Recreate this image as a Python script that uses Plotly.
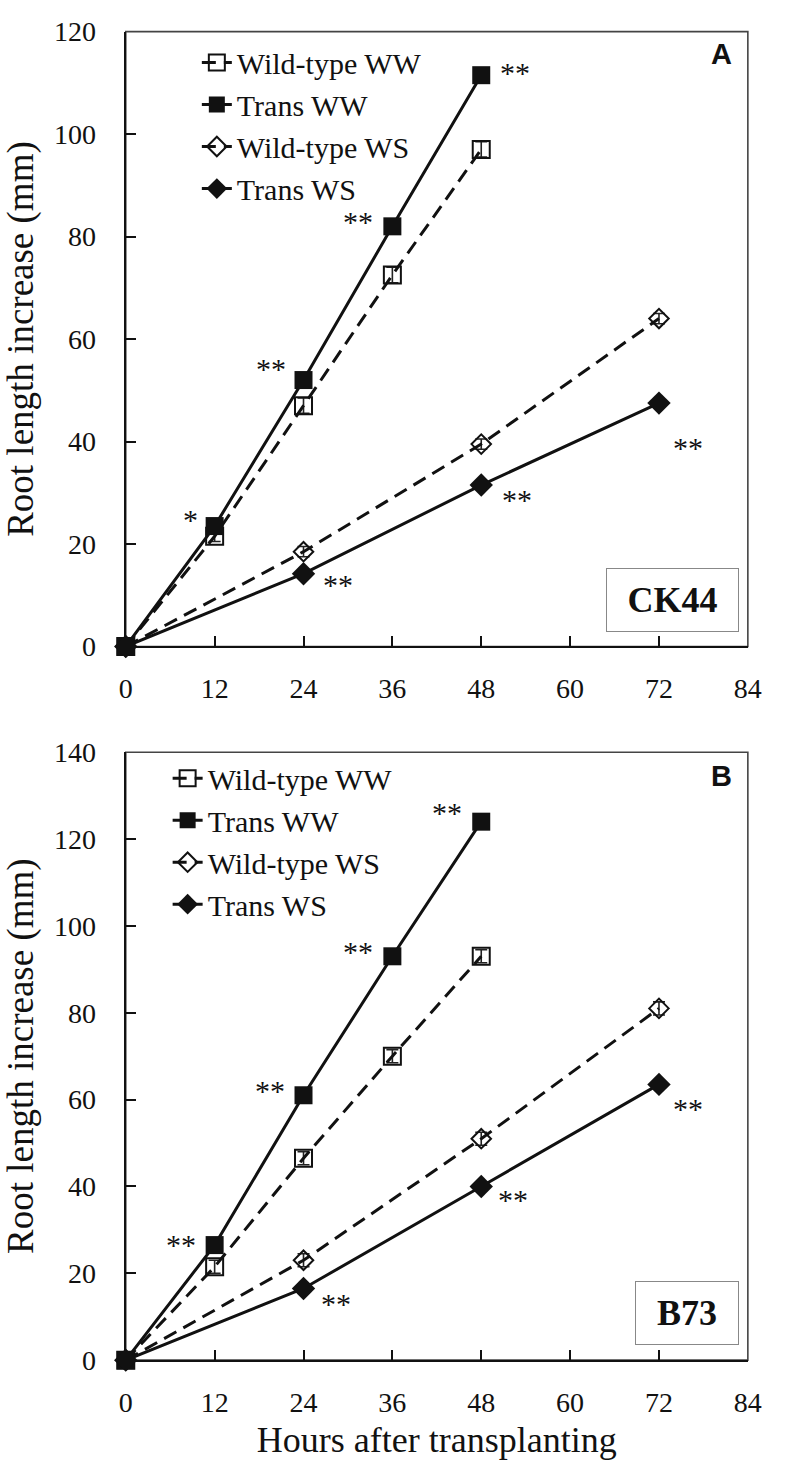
import plotly.graph_objects as go

# ---------------- data ----------------
hours_ww = [0, 12, 24, 36, 48]
hours_ws = [0, 24, 48, 72]

# Panel A: CK44
ck_wt_ww = [0, 21.5, 47.0, 72.5, 97.0]
ck_wt_ww_err = [0, 1.0, 1.5, 1.5, 1.5]
ck_tr_ww = [0, 23.5, 52.0, 82.0, 111.5]
ck_tr_ww_err = [0, 1.0, 1.0, 1.0, 1.0]
ck_wt_ws = [0, 18.5, 39.5, 64.0]
ck_wt_ws_err = [0, 1.0, 1.0, 1.0]
ck_tr_ws = [0, 14.2, 31.5, 47.5]
ck_tr_ws_err = [0, 0.8, 0.8, 0.8]

# Panel B: B73
b_wt_ww = [0, 21.5, 46.5, 70.0, 93.0]
b_wt_ww_err = [0, 1.5, 1.5, 1.5, 1.5]
b_tr_ww = [0, 26.5, 61.0, 93.0, 124.0]
b_tr_ww_err = [0, 1.0, 1.0, 1.0, 1.0]
b_wt_ws = [0, 23.0, 51.0, 81.0]
b_wt_ws_err = [0, 1.5, 1.5, 1.5]
b_tr_ws = [0, 16.5, 40.0, 63.5]
b_tr_ws_err = [0, 1.0, 1.0, 1.0]

series_names = ["Wild-type WW", "Trans WW", "Wild-type WS", "Trans WS"]
x_ticks = [0, 12, 24, 36, 48, 60, 72, 84]

# significance marks: (series index, point index, text)
ck_sig = [(1, 1, "*"), (1, 2, "**"), (1, 3, "**"), (1, 4, "**"),
          (3, 1, "**"), (3, 2, "**"), (3, 3, "**")]
b_sig = [(1, 1, "**"), (1, 2, "**"), (1, 3, "**"), (1, 4, "**"),
         (3, 1, "**"), (3, 2, "**"), (3, 3, "**")]

# ---------------- style ----------------
SERIF = "Liberation Serif, Times New Roman, serif"
SANS = "Liberation Sans, Arial, sans-serif"
W, H = 793, 1477

styles = [
    dict(dash="14px,8px", symbol="square-open", size=17, fill=False),
    dict(dash="solid", symbol="square", size=18, fill=True),
    dict(dash="14px,8px", symbol="diamond-open", size=15, fill=False),
    dict(dash="solid", symbol="diamond", size=18, fill=True),
]

fig = go.Figure()

panels = [
    dict(xa="x", ya="y", legend="legend",
         data=[(hours_ww, ck_wt_ww, ck_wt_ww_err), (hours_ww, ck_tr_ww, ck_tr_ww_err),
               (hours_ws, ck_wt_ws, ck_wt_ws_err), (hours_ws, ck_tr_ws, ck_tr_ws_err)],
         sig=ck_sig),
    dict(xa="x2", ya="y2", legend="legend2",
         data=[(hours_ww, b_wt_ww, b_wt_ww_err), (hours_ww, b_tr_ww, b_tr_ww_err),
               (hours_ws, b_wt_ws, b_wt_ws_err), (hours_ws, b_tr_ws, b_tr_ws_err)],
         sig=b_sig),
]

for p in panels:
    for i, (xs, ys, es) in enumerate(p["data"]):
        st = styles[i]
        fig.add_trace(go.Scatter(
            x=xs, y=ys, name=series_names[i], mode="lines+markers",
            xaxis=p["xa"], yaxis=p["ya"], legend=p["legend"],
            line=dict(color="#111111", width=3, dash=st["dash"]),
            marker=dict(symbol=st["symbol"], size=st["size"], color="#111111",
                        line=dict(color="#111111", width=2 if not st["fill"] else 0)),
            error_y=dict(type="data", array=es, visible=True, color="#222222",
                         thickness=1.6, width=6),
            cliponaxis=False,
        ))

# significance annotations, placed relative to the data point (pixel offsets)
offsets_ck = {(1, 1): (-24, -7), (1, 2): (-33, -12), (1, 3): (-34, -5), (1, 4): (34, -3),
              (3, 1): (34, 11), (3, 2): (36, 14), (3, 3): (29, 44)}
offsets_b = {(1, 1): (-34, -1), (1, 2): (-34, -5), (1, 3): (-34, -5), (1, 4): (-34, -9),
             (3, 1): (32, 15), (3, 2): (32, 13), (3, 3): (29, 24)}

annotations = []
for p, offs in zip(panels, [offsets_ck, offsets_b]):
    for (si, pi, txt) in p["sig"]:
        xs, ys, _ = p["data"][si]
        dx, dy = offs[(si, pi)]
        annotations.append(dict(
            x=xs[pi], y=ys[pi], xref=p["xa"], yref=p["ya"], text=txt,
            showarrow=False, xshift=dx, yshift=-dy,
            xanchor="center", yanchor="middle",
            font=dict(family=SERIF, size=30, color="#111111")))

# domains (pixel based)
xd = [122 / W, 761 / W]
yd_top = [1 - 645 / H, 1 - 17 / H]
yd_bot = [1 - 1374 / H, 1 - 753 / H]

# panel letters
annotations.append(dict(x=734 / W, y=1 - 40 / H, xref="paper", yref="paper", text="<b>A</b>",
                        xanchor="center", yanchor="middle",
                        showarrow=False, font=dict(family=SANS, size=29, color="#111111")))
annotations.append(dict(x=734 / W, y=1 - 777 / H, xref="paper", yref="paper", text="<b>B</b>",
                        xanchor="center", yanchor="middle",
                        showarrow=False, font=dict(family=SANS, size=29, color="#111111")))
# cultivar boxes
annotations.append(dict(x=752 / W, y=1 - 630 / H, xref="paper", yref="paper",
                        xanchor="right", yanchor="bottom", text="<b>CK44</b>",
                        showarrow=False, width=127, height=58, borderpad=2,
                        bordercolor="#888888", borderwidth=1, bgcolor="white",
                        font=dict(family=SERIF, size=36, color="#111111")))
annotations.append(dict(x=752 / W, y=1 - 1359 / H, xref="paper", yref="paper",
                        xanchor="right", yanchor="bottom", text="<b>B73</b>",
                        showarrow=False, width=98, height=58, borderpad=2,
                        bordercolor="#888888", borderwidth=1, bgcolor="white",
                        font=dict(family=SERIF, size=36, color="#111111")))

axis_common = dict(showgrid=False, zeroline=False, showline=True, linecolor="#111111",
                   linewidth=2.4, ticks="inside", ticklen=10, tickwidth=2,
                   tickcolor="#111111", tickfont=dict(family=SERIF, size=28, color="#111111"))

xaxis_common = dict(axis_common, range=[0, 84], tickmode="array", tickvals=x_ticks,
                    ticklabelstandoff=16)

ytitle_font = dict(family=SERIF, size=37, color="#111111")

fig.update_layout(
    width=W, height=H, autosize=False,
    margin=dict(l=0, r=0, t=0, b=0),
    paper_bgcolor="white", plot_bgcolor="white",
    xaxis=dict(xaxis_common, domain=xd, anchor="y"),
    yaxis=dict(axis_common, domain=yd_top, anchor="x", range=[0, 120], dtick=20,
               ticklabelstandoff=22,
               title=dict(text="Root length increase (mm)", standoff=12, font=ytitle_font)),
    xaxis2=dict(xaxis_common, domain=xd, anchor="y2",
                title=dict(text="Hours after transplanting", standoff=10,
                           font=dict(family=SERIF, size=36, color="#111111"))),
    yaxis2=dict(axis_common, domain=yd_bot, anchor="x2", range=[0, 140], dtick=20,
                ticklabelstandoff=22,
                title=dict(text="Root length increase (mm)", standoff=12, font=ytitle_font)),
    legend=dict(x=195 / W, y=1 - 22 / H, xanchor="left", yanchor="top",
                bgcolor="rgba(0,0,0,0)", borderwidth=0, tracegroupgap=0,
                font=dict(family=SERIF, size=30, color="#111111")),
    legend2=dict(x=165 / W, y=1 - 753 / H, xanchor="left", yanchor="top",
                 bgcolor="rgba(0,0,0,0)", borderwidth=0, tracegroupgap=0,
                 font=dict(family=SERIF, size=30, color="#111111")),
    annotations=annotations,
    shapes=[
        dict(type="rect", xref="x domain", yref="y domain", x0=0, x1=1, y0=0, y1=1,
             line=dict(color="#444444", width=1.6), layer="below"),
        dict(type="rect", xref="x2 domain", yref="y2 domain", x0=0, x1=1, y0=0, y1=1,
             line=dict(color="#444444", width=1.6), layer="below"),
    ],
    showlegend=True,
)

fig.write_html(
    "out.html",
    config={"displayModeBar": False},
    post_script=("document.body.style.margin='0';"
                 "document.body.style.overflow='hidden';"
                 "document.documentElement.style.overflow='hidden';"),
)
